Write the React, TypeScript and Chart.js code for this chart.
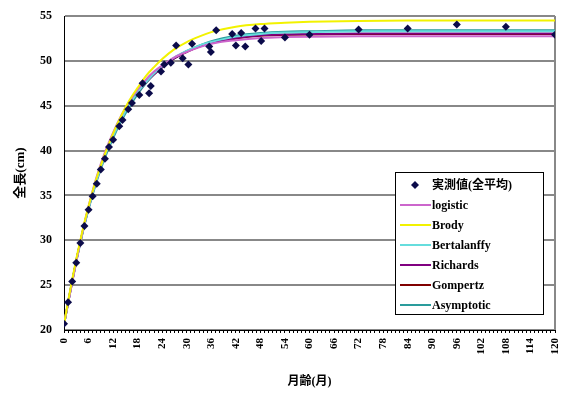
import React, { useEffect, useRef } from 'react';
import { Chart, registerables } from 'chart.js';

Chart.register(...registerables);

// Observed values (全平均)
const obsMonths = [0, 1, 2, 3, 4, 5, 6, 7, 8, 9, 10, 11, 12, 13.5, 14.3, 15.7, 16.6, 18.4, 19.2, 20.8, 21.2, 23.7, 24.5, 26.1, 27.4, 29, 30.4, 31.3, 35.5, 35.9, 37.2, 41.1, 42, 43.3, 44.3, 46.8, 48.2, 49, 54, 60, 72, 84, 96, 108, 120];
const obsValues = [20.7, 23.1, 25.4, 27.5, 29.7, 31.6, 33.4, 34.9, 36.3, 37.9, 39.1, 40.4, 41.2, 42.7, 43.4, 44.6, 45.3, 46.2, 47.5, 46.4, 47.2, 48.8, 49.6, 49.8, 51.7, 50.3, 49.6, 51.9, 51.6, 51.0, 53.4, 53.0, 51.7, 53.1, 51.6, 53.6, 52.2, 53.6, 52.6, 52.9, 53.5, 53.6, 54.05, 53.8, 52.9];

// Fitted curves, read at these months
const curveMonths = [0, 1, 2, 3, 4, 5, 6, 8, 10, 12, 14, 16, 18, 20, 22, 24, 27, 30, 33, 36, 42, 48, 54, 60, 72, 84, 96, 108, 120];
const logisticValues = [20.7, 23.0, 25.3, 27.6, 29.8, 31.9, 33.8, 37.1, 39.8, 42.0, 43.9, 45.5, 46.8, 47.9, 48.8, 49.5, 50.4, 51.0, 51.5, 51.9, 52.3, 52.55, 52.65, 52.7, 52.75, 52.75, 52.75, 52.75, 52.75];
const brodyValues = [20.6, 23.2, 25.6, 27.9, 30.0, 32.0, 33.8, 37.0, 39.6, 41.9, 43.9, 45.6, 47.0, 48.3, 49.3, 50.2, 51.3, 52.1, 52.7, 53.2, 53.8, 54.1, 54.25, 54.35, 54.45, 54.5, 54.5, 54.5, 54.5];
const bertalanffyValues = [20.6, 23.0, 25.4, 27.6, 29.7, 31.7, 33.5, 36.7, 39.4, 41.6, 43.5, 45.1, 46.5, 47.6, 48.6, 49.4, 50.4, 51.1, 51.7, 52.1, 52.7, 53.0, 53.15, 53.2, 53.3, 53.3, 53.3, 53.3, 53.3];
const richardsValues = [20.6, 23.0, 25.4, 27.7, 29.8, 31.8, 33.6, 36.8, 39.5, 41.7, 43.6, 45.2, 46.5, 47.6, 48.5, 49.3, 50.3, 51.0, 51.6, 52.0, 52.55, 52.85, 52.95, 53.0, 53.05, 53.05, 53.05, 53.05, 53.05];
const gompertzValues = [20.6, 23.0, 25.4, 27.7, 29.8, 31.8, 33.6, 36.8, 39.5, 41.7, 43.6, 45.2, 46.5, 47.6, 48.5, 49.3, 50.3, 51.0, 51.6, 52.0, 52.5, 52.8, 52.9, 52.95, 53.0, 53.0, 53.0, 53.0, 53.0];
const asymptoticValues = [20.6, 23.1, 25.5, 27.7, 29.8, 31.7, 33.5, 36.6, 39.2, 41.4, 43.3, 44.9, 46.3, 47.5, 48.5, 49.3, 50.3, 51.1, 51.7, 52.2, 52.8, 53.1, 53.25, 53.3, 53.4, 53.4, 53.4, 53.4, 53.4];

const seriesNames = ['実測値(全平均)', 'logistic', 'Brody', 'Bertalanffy', 'Richards', 'Gompertz', 'Asymptotic'];
const seriesColors = ['#0b0b4a', '#cc66cc', '#f2f200', '#66dddd', '#800080', '#800000', '#2a9c9c'];

const yTickLabels = ['20', '25', '30', '35', '40', '45', '50', '55'];
const xTickLabels = ['0', '6', '12', '18', '24', '30', '36', '42', '48', '54', '60', '66', '72', '78', '84', '90', '96', '102', '108', '114', '120'];

const yTitle = '全長(cm)';
const xTitle = '月齢(月)';

const FONT_FAMILY = '"Liberation Serif", "Noto Sans CJK JP", serif';

const frameAndLegend = {
  id: 'frameAndLegend',
  beforeDatasetsDraw(chart: any) {
    const { ctx, chartArea } = chart;
    ctx.save();
    ctx.strokeStyle = '#888888';
    ctx.lineWidth = 2;
    ctx.beginPath();
    ctx.moveTo(chartArea.right, chartArea.top);
    ctx.lineTo(chartArea.right, chartArea.bottom);
    ctx.stroke();
    ctx.restore();
  },
  afterDraw(chart: any) {
    const { ctx } = chart;
    const bx = 395, by = 172, bw = 148, bh = 142;
    ctx.save();
    ctx.fillStyle = '#ffffff';
    ctx.fillRect(bx, by, bw, bh);
    ctx.strokeStyle = '#000000';
    ctx.lineWidth = 1;
    ctx.strokeRect(bx + 0.5, by + 0.5, bw, bh);
    ctx.font = 'bold 12px ' + FONT_FAMILY;
    ctx.textBaseline = 'middle';
    ctx.textAlign = 'left';
    chart.data.datasets.forEach((ds: any, i: number) => {
      const y = by + 13 + i * 20;
      if (i === 0) {
        ctx.fillStyle = ds.borderColor;
        ctx.beginPath();
        ctx.moveTo(415, y - 4);
        ctx.lineTo(419, y);
        ctx.lineTo(415, y + 4);
        ctx.lineTo(411, y);
        ctx.closePath();
        ctx.fill();
      } else {
        ctx.strokeStyle = ds.borderColor;
        ctx.lineWidth = 2;
        ctx.beginPath();
        ctx.moveTo(400, y);
        ctx.lineTo(431, y);
        ctx.stroke();
      }
      ctx.fillStyle = '#000000';
      ctx.fillText(ds.label, 432, y + 1);
    });
    ctx.restore();
  },
};

export default function App() {
  const ref = useRef<HTMLCanvasElement | null>(null);

  useEffect(() => {
    if (!ref.current) return;
    const curveSets = [logisticValues, brodyValues, bertalanffyValues, richardsValues, gompertzValues, asymptoticValues];
    const datasets: any[] = [
      {
        label: seriesNames[0],
        data: obsMonths.map((m, i) => ({ x: m, y: obsValues[i] })),
        showLine: false,
        borderColor: seriesColors[0],
        backgroundColor: seriesColors[0],
        pointStyle: 'rectRot',
        pointRadius: 4,
        pointBorderWidth: 0,
        order: 0,
      },
      ...curveSets.map((vals, k) => ({
        label: seriesNames[k + 1],
        data: curveMonths.map((m, i) => ({ x: m, y: vals[i] })),
        showLine: true,
        borderColor: seriesColors[k + 1],
        backgroundColor: seriesColors[k + 1],
        borderWidth: 2,
        pointRadius: 0,
        cubicInterpolationMode: 'monotone',
        order: 1 + (k === 1 ? 0 : 1),
      })),
    ];

    const chart = new Chart(ref.current, {
      type: 'scatter',
      data: { datasets },
      plugins: [frameAndLegend],
      options: {
        animation: false,
        responsive: false,
        devicePixelRatio: 1,
        layout: { padding: { left: 0, right: 6, top: 16, bottom: 0 } },
        plugins: { legend: { display: false }, tooltip: { enabled: false } },
        scales: {
          x: {
            type: 'linear',
            min: 0,
            max: 120,
            afterBuildTicks: (scale: any) => {
              const t: any[] = [];
              for (let m = 0; m <= 120; m++) t.push({ value: m });
              scale.ticks = t;
            },
            afterFit: (scale: any) => {
              scale.height = 71;
              scale.paddingLeft = 0;
              scale.paddingRight = 0;
            },
            ticks: {
              autoSkip: false,
              minRotation: 90,
              maxRotation: 90,
              padding: 5,
              color: '#000',
              font: { family: FONT_FAMILY, size: 11, weight: 'bold' },
              callback: (v: any) => (xTickLabels.includes(String(v)) ? String(v) : ''),
            },
            grid: { drawOnChartArea: false, drawTicks: true, tickLength: 3, color: '#000', lineWidth: 1 },
            border: { color: '#000', width: 1 },
            title: {
              display: true,
              text: xTitle,
              color: '#000',
              font: { family: FONT_FAMILY, size: 12, weight: 'bold' },
              padding: { top: 0, bottom: 12 },
            },
          },
          y: {
            type: 'linear',
            min: 20,
            max: 55,
            afterBuildTicks: (scale: any) => {
              scale.ticks = yTickLabels.map((v) => ({ value: Number(v) }));
            },
            afterFit: (scale: any) => {
              scale.width = 64;
              scale.paddingTop = 0;
              scale.paddingBottom = 0;
            },
            ticks: {
              padding: 12,
              color: '#000',
              font: { family: FONT_FAMILY, size: 12, weight: 'bold' },
              callback: (v: any) => String(v),
            },
            grid: { drawTicks: false, color: '#888888', lineWidth: 2 },
            border: { color: '#000', width: 1 },
            title: {
              display: true,
              text: yTitle,
              color: '#000',
              font: { family: FONT_FAMILY, size: 13, weight: 'bold' },
              padding: { top: 13, bottom: 0 },
            },
          },
        },
      },
    } as any);
    return () => chart.destroy();
  }, []);

  return (
    <div style={{ position: 'absolute', left: 0, top: 0, width: 561, height: 401, background: '#fff' }}>
      <canvas ref={ref} width={561} height={401} />
    </div>
  );
}
